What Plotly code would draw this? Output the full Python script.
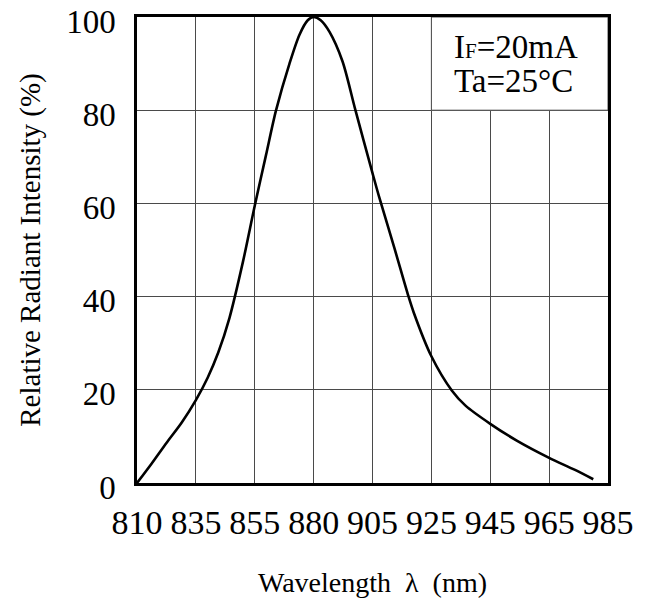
import numpy as np
import plotly.graph_objects as go

# Tick labels (evenly spaced grid columns with non-uniform wavelength labels)
tick_wavelengths = [810, 835, 855, 880, 905, 925, 945, 965, 985]
y_ticks = [0, 20, 40, 60, 80, 100]

# Spectrum
wavelength_nm = [810, 816.25, 822.5, 829, 835, 839, 842.6, 846.4, 851,
                 855, 859.75, 864, 869.75, 874, 877.5, 880, 883, 886.75, 892.25,
                 897.75, 905, 907.2, 912.4, 917, 919, 925, 932, 936.6, 945,
                 954, 965, 973.8, 980]
intensity_pct = [0, 4.2, 8.6, 13.0, 17.8, 22.6, 28, 35.4, 47.5,
                 59.5, 70.3, 79.9, 90, 96.2, 99.3, 100, 99.3, 96.8, 90.5,
                 80, 66.5, 61.5, 50.5, 40.5, 36.6, 27.2, 19.8, 16.6, 12.7,
                 9.1, 5.4, 2.8, 0.8]

grid_pos = list(range(len(tick_wavelengths)))
x_pos = np.interp(wavelength_nm, tick_wavelengths, grid_pos)

FONT = "Liberation Serif"
GRID = "#4a4a4a"

fig = go.Figure()
fig.add_trace(go.Scatter(
    x=x_pos, y=intensity_pct, mode="lines",
    line=dict(color="black", width=2.6, shape="spline", smoothing=0.8),
    showlegend=False, hoverinfo="skip",
))

# white box for condition text
fig.add_shape(type="rect", xref="x", yref="y", x0=5, x1=8, y0=80, y1=100,
              fillcolor="white", line=dict(color=GRID, width=1), layer="between")

for txt, yy in [("I<span style='font-size:21px'>F</span>=20mA", 0.936),
                ("Ta=25°C", 0.863)]:
    fig.add_annotation(
        xref="paper", yref="paper", x=0.668, y=yy, xanchor="left", yanchor="middle",
        text=txt, showarrow=False, align="left",
        font=dict(family=FONT, size=33, color="black"),
    )

fig.update_layout(
    width=654, height=602,
    margin=dict(l=137, r=46, t=17, b=119),
    paper_bgcolor="white", plot_bgcolor="white",
    font=dict(family=FONT, color="black"),
    xaxis=dict(
        range=[0, 8], tickvals=grid_pos, ticktext=[str(t) for t in tick_wavelengths],
        showgrid=True, gridcolor=GRID, gridwidth=1,
        showline=True, linecolor="black", linewidth=2.5, mirror=True,
        ticks="outside", ticklen=7, tickcolor="rgba(0,0,0,0)",
        tickfont=dict(family=FONT, size=34), zeroline=False,
        ticklabeloverflow="allow", automargin=False,
        title=dict(text="Wavelength  λ  (nm)", font=dict(family=FONT, size=28), standoff=33),
    ),
    yaxis=dict(
        range=[0, 100], tickvals=y_ticks,
        showgrid=True, gridcolor=GRID, gridwidth=1,
        showline=True, linecolor="black", linewidth=2.5, mirror=True,
        ticks="outside", ticklen=12, tickcolor="rgba(0,0,0,0)",
        tickfont=dict(family=FONT, size=33), zeroline=False,
        ticklabeloverflow="allow", automargin=False, ticklabelshift=4,
        title=dict(text="Relative Radiant Intensity (%)", font=dict(family=FONT, size=29), standoff=18),
    ),
)

fig.write_html("out.html", config={"displayModeBar": False},
               post_script="document.body.style.margin='0px';")
